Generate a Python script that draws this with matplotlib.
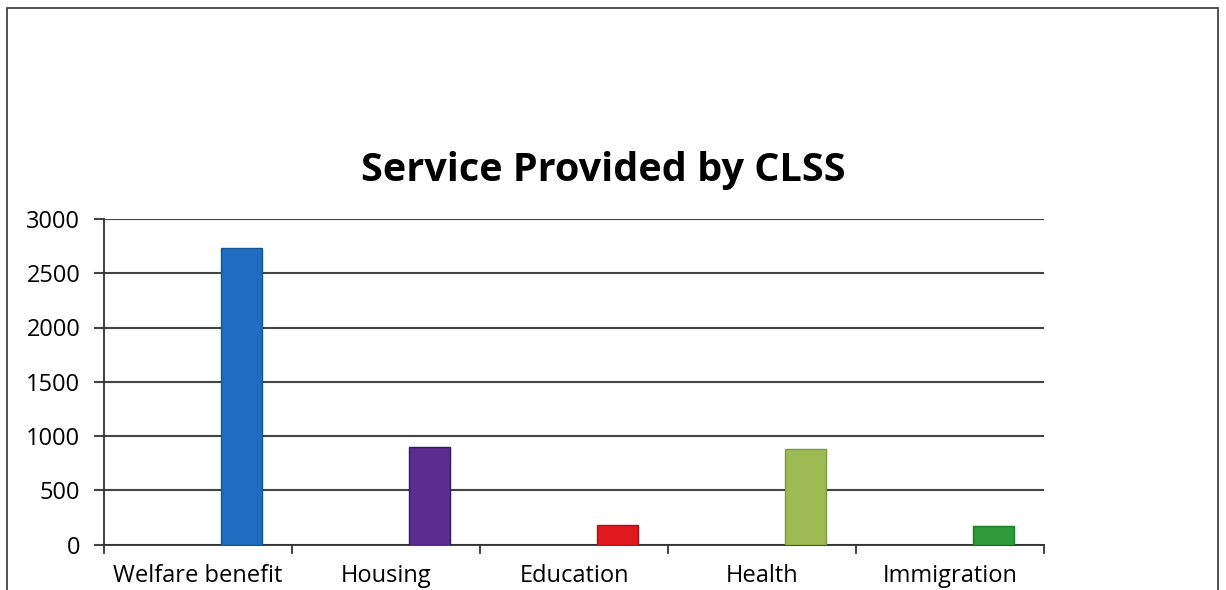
import matplotlib.pyplot as plt
from matplotlib.patches import Rectangle

# Data
services = ['Welfare benefit', 'Housing', 'Education', 'Health', 'Immigration']
counts = [2730, 900, 178, 876, 169]
bar_colors = ['#1f6cc0', '#5b2d90', '#e0191f', '#9dbb52', '#2e9a3a']
edge_colors = ['#17559a', '#2e1a6e', '#a81218', '#7f9a3e', '#1f7a2a']

plt.rcParams['font.family'] = ['Open Sans', 'DejaVu Sans']

fig = plt.figure(figsize=(12.26, 5.90), dpi=100)
ax = fig.add_axes([104 / 1226, 1 - 544.5 / 590, (1044 - 104) / 1226, (544.5 - 219) / 590])

x = list(range(len(services)))
bar_x = [i + 0.23 for i in x]
ax.bar(bar_x, counts, width=0.22, color=bar_colors, edgecolor=edge_colors,
       linewidth=1.0, zorder=3)

ax.set_xlim(-0.5, len(services) - 0.5)
ax.set_ylim(0, 3000)
ax.set_yticks(range(0, 3001, 500))
ax.grid(axis='y', color='#444444', linewidth=1.5, zorder=0)

# category labels between boundary ticks
ax.set_xticks(x)
ax.set_xticklabels(services, fontsize=17)
ax.tick_params(axis='x', length=0, pad=14)
for b in [i - 0.5 for i in range(len(services) + 1)]:
    ax.plot([b, b], [0, -0.025], transform=ax.get_xaxis_transform(),
            color='#333333', linewidth=1.3, clip_on=False)

ax.tick_params(axis='y', labelsize=17, length=7, width=1.5, color='#444444', pad=10)

for side in ['top', 'right']:
    ax.spines[side].set_visible(False)
ax.spines['left'].set_color('#333333')
ax.spines['left'].set_linewidth(1.3)
ax.spines['bottom'].set_color('#333333')
ax.spines['bottom'].set_linewidth(1.3)

fig.text(0.492, 1 - 170 / 590, 'Service Provided by CLSS', ha='center', va='center',
         fontsize=28.5, fontweight='bold')

# chart frame (bottom edge falls outside the picture)
fig.add_artist(Rectangle((7 / 1226, -0.05), (1218 - 7) / 1226, 1.05 - 8 / 590,
                         transform=fig.transFigure, fill=False,
                         edgecolor='#444444', linewidth=1.3))

fig.savefig('out.png', dpi=100)
